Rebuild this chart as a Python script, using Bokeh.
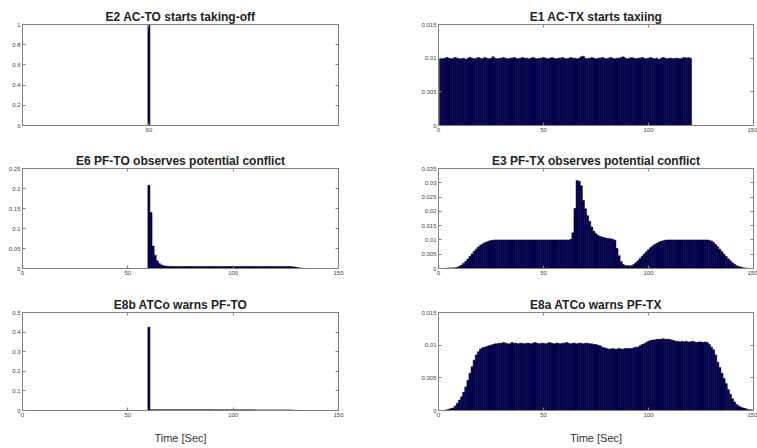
from bokeh.plotting import figure
from bokeh.models import LinearAxis, FixedTicker, ColumnDataSource
from bokeh.layouts import column, row
from bokeh.embed import file_html
from bokeh.resources import INLINE

# ---------------- data ----------------
x_ticks = [0, 50, 100, 150]
x_tick_labels = ["0", "50", "100", "150"]
e2_x_ticks = [60]
e2_x_tick_labels = ["60"]

# E2 AC-TO starts taking-off
e2_time = [60]
e2_prob = [1.0]
e2_yticks = [0, 0.2, 0.4, 0.6, 0.8, 1.0]
e2_ylabels = ["0", "0.2", "0.4", "0.6", "0.8", "1"]

# E1 AC-TX starts taxiing (times 1..120)
e1_time = list(range(1, 121))
e1_prob = [
    0.0100, 0.0099, 0.0100, 0.0101, 0.0100, 0.0099, 0.0100, 0.0101, 0.0100, 0.0099,
    0.0099, 0.0100, 0.0098, 0.0100, 0.0101, 0.0100, 0.0099, 0.0100, 0.0101, 0.0100,
    0.0099, 0.0101, 0.0100, 0.0099, 0.0100, 0.0102, 0.0100, 0.0099, 0.0100, 0.0100,
    0.0101, 0.0100, 0.0099, 0.0100, 0.0100, 0.0101, 0.0100, 0.0099, 0.0100, 0.0101,
    0.0100, 0.0100, 0.0099, 0.0100, 0.0101, 0.0100, 0.0099, 0.0100, 0.0100, 0.0101,
    0.0100, 0.0099, 0.0100, 0.0101, 0.0100, 0.0099, 0.0100, 0.0100, 0.0101, 0.0100,
    0.0099, 0.0100, 0.0101, 0.0100, 0.0100, 0.0099, 0.0100, 0.0102, 0.0103, 0.0100,
    0.0099, 0.0100, 0.0101, 0.0100, 0.0099, 0.0100, 0.0100, 0.0101, 0.0100, 0.0099,
    0.0100, 0.0101, 0.0100, 0.0099, 0.0100, 0.0100, 0.0101, 0.0102, 0.0100, 0.0099,
    0.0100, 0.0101, 0.0100, 0.0099, 0.0100, 0.0100, 0.0101, 0.0100, 0.0099, 0.0100,
    0.0101, 0.0100, 0.0099, 0.0100, 0.0098, 0.0100, 0.0101, 0.0100, 0.0099, 0.0100,
    0.0100, 0.0099, 0.0100, 0.0100, 0.0099, 0.0100, 0.0101, 0.0100, 0.0101, 0.0100,
]
e1_yticks = [0, 0.005, 0.01, 0.015]
e1_ylabels = ["0", "0.005", "0.01", "0.015"]

# E6 PF-TO observes potential conflict (times 60..135)
e6_time = list(range(60, 136))
e6_prob = [
    0.208, 0.140, 0.056, 0.033, 0.019, 0.012, 0.009, 0.007, 0.006, 0.0055,
    0.0052, 0.0050, 0.0050, 0.0049, 0.0050, 0.0051, 0.0050, 0.0049, 0.0050, 0.0050,
    0.0051, 0.0050, 0.0049, 0.0052, 0.0053, 0.0052, 0.0050, 0.0049, 0.0050, 0.0050,
    0.0051, 0.0052, 0.0053, 0.0052, 0.0051, 0.0050, 0.0050, 0.0051, 0.0052, 0.0052,
    0.0051, 0.0050, 0.0050, 0.0051, 0.0052, 0.0052, 0.0051, 0.0050, 0.0050, 0.0051,
    0.0052, 0.0053, 0.0052, 0.0051, 0.0050, 0.0051, 0.0052, 0.0053, 0.0052, 0.0051,
    0.0050, 0.0050, 0.0049, 0.0050, 0.0050, 0.0049, 0.0048, 0.0047, 0.0045, 0.0040,
    0.0030, 0.0020, 0.0012, 0.0006, 0.0003, 0.0001,
]
e6_yticks = [0, 0.05, 0.1, 0.15, 0.2, 0.25]
e6_ylabels = ["0", "0.05", "0.1", "0.15", "0.2", "0.25"]

# E3 PF-TX observes potential conflict (times 0..149)
e3_time = list(range(0, 150))
e3_prob = [
    0.0, 0.0, 0.0, 0.0, 0.0001, 0.0002, 0.0002, 0.0002, 0.0003, 0.0004,
    0.0008, 0.0012, 0.0018, 0.0025, 0.0033, 0.0042, 0.0051, 0.0060, 0.0068, 0.0075,
    0.0081, 0.0086, 0.0090, 0.0093, 0.0096, 0.0098, 0.0099, 0.0100, 0.0100, 0.0100,
    0.0100, 0.0100, 0.0100, 0.0100, 0.0100, 0.0100, 0.0100, 0.0100, 0.0100, 0.0100,
    0.0100, 0.0100, 0.0100, 0.0100, 0.0100, 0.0100, 0.0100, 0.0100, 0.0100, 0.0100,
    0.0100, 0.0100, 0.0100, 0.0100, 0.0100, 0.0100, 0.0100, 0.0100, 0.0100, 0.0100,
    0.0100, 0.0100, 0.0100, 0.0102, 0.0125, 0.0210, 0.0308, 0.0305, 0.0290, 0.0238,
    0.0209, 0.0185, 0.0165, 0.0145, 0.0130, 0.0122, 0.0116, 0.0112, 0.0110, 0.0108,
    0.0106, 0.0105, 0.0104, 0.0102, 0.0099, 0.0070, 0.0045, 0.0024, 0.0014, 0.0010,
    0.0010, 0.0010, 0.0010, 0.0014, 0.0020, 0.0027, 0.0035, 0.0043, 0.0051, 0.0059,
    0.0066, 0.0073, 0.0079, 0.0084, 0.0088, 0.0092, 0.0095, 0.0097, 0.0099, 0.0100,
    0.0100, 0.0100, 0.0100, 0.0100, 0.0100, 0.0100, 0.0100, 0.0100, 0.0100, 0.0100,
    0.0100, 0.0100, 0.0100, 0.0100, 0.0100, 0.0100, 0.0100, 0.0100, 0.0100, 0.0099,
    0.0096, 0.0091, 0.0084, 0.0076, 0.0067, 0.0059, 0.0050, 0.0042, 0.0034, 0.0027,
    0.0020, 0.0015, 0.0010, 0.0007, 0.0005, 0.0003, 0.0002, 0.0001, 0.0, 0.0,
]
e3_yticks = [0, 0.005, 0.01, 0.015, 0.02, 0.025, 0.03, 0.035]
e3_ylabels = ["0", "0.005", "0.01", "0.015", "0.02", "0.025", "0.03", "0.035"]

# E8b ATCo warns PF-TO (times 60..132)
e8b_time = list(range(60, 133))
e8b_prob = [0.425] + [0.004] * 30 + [0.0035] * 20 + [0.003] * 17 + [0.002, 0.0015, 0.001, 0.0007, 0.0004]
e8b_yticks = [0, 0.1, 0.2, 0.3, 0.4, 0.5]
e8b_ylabels = ["0", "0.1", "0.2", "0.3", "0.4", "0.5"]

# E8a ATCo warns PF-TX (times 0..149)
e8a_time = list(range(0, 150))
e8a_prob = [
    0.0, 0.0, 0.0, 0.0, 0.0001, 0.0002, 0.0003, 0.0004, 0.0007, 0.0011,
    0.0016, 0.0021, 0.0028, 0.0036, 0.0046, 0.0057, 0.0067, 0.0077, 0.0085, 0.0090,
    0.0094, 0.0096, 0.0097, 0.0098, 0.0099, 0.0100, 0.0101, 0.0102, 0.0102, 0.0103,
    0.0103, 0.0104, 0.0103, 0.0102, 0.0102, 0.0104, 0.0103, 0.0103, 0.0102, 0.0103,
    0.0103, 0.0102, 0.0103, 0.0103, 0.0102, 0.0103, 0.0104, 0.0103, 0.0102, 0.0103,
    0.0103, 0.0102, 0.0103, 0.0104, 0.0103, 0.0102, 0.0103, 0.0103, 0.0102, 0.0103,
    0.0103, 0.0104, 0.0103, 0.0102, 0.0103, 0.0103, 0.0102, 0.0103, 0.0103, 0.0102,
    0.0103, 0.0103, 0.0102, 0.0102, 0.0101, 0.0101, 0.0100, 0.0099, 0.0097, 0.0096,
    0.0095, 0.0094, 0.0094, 0.0095, 0.0094, 0.0094, 0.0095, 0.0094, 0.0094, 0.0095,
    0.0095, 0.0095, 0.0095, 0.0096, 0.0097, 0.0097, 0.0099, 0.0101, 0.0102, 0.0104,
    0.0106, 0.0107, 0.0108, 0.0108, 0.0109, 0.0109, 0.0109, 0.0110, 0.0109, 0.0109,
    0.0109, 0.0108, 0.0107, 0.0106, 0.0106, 0.0105, 0.0106, 0.0105, 0.0106, 0.0105,
    0.0105, 0.0106, 0.0105, 0.0104, 0.0105, 0.0105, 0.0104, 0.0105, 0.0104, 0.0101,
    0.0097, 0.0093, 0.0085, 0.0074, 0.0066, 0.0057, 0.0049, 0.0041, 0.0032, 0.0025,
    0.0018, 0.0013, 0.0009, 0.0007, 0.0005, 0.0004, 0.0003, 0.0002, 0.0001, 0.0001,
]
e8a_yticks = [0, 0.005, 0.01, 0.015]
e8a_ylabels = ["0", "0.005", "0.01", "0.015"]

# ---------------- styling ----------------
BAR_FILL = "#00006c"
BAR_LINE = "#000000"
FRAME = "#808080"
TICK_FONT = "Liberation Sans"
TICK_SIZE = "6px"
TICK_COLOR = "#444444"


def style_axis(ax, show_labels=True):
    ax.axis_line_color = FRAME
    ax.major_tick_line_color = FRAME
    ax.major_tick_in = 3
    ax.major_tick_out = 0
    ax.minor_tick_line_color = None
    ax.major_label_text_font = TICK_FONT
    ax.major_label_text_color = TICK_COLOR
    if show_labels:
        ax.major_label_standoff = 2
        ax.major_label_text_font_size = TICK_SIZE
    else:
        ax.major_label_standoff = 0
        ax.major_label_text_font_size = "1px"
        ax.major_label_text_color = None


def panel(title, t, v, ymax, yticks, ylabels, xticks, xlabels,
          w, h, bl, br, bt, bb, xlabel=None):
    p = figure(width=w, height=h, x_range=(0, 150), y_range=(0, ymax),
               output_backend="svg", toolbar_location=None,
               min_border_left=bl, min_border_right=br,
               min_border_top=bt, min_border_bottom=bb)
    p.title.text = title
    p.title.align = "center"
    p.title.text_font = "Liberation Sans"
    p.title.text_font_size = "12px"
    p.title.text_font_style = "bold"
    p.title.text_color = "#222222"
    p.title.standoff = 2
    p.grid.visible = False
    p.outline_line_color = FRAME
    p.background_fill_color = "white"
    p.border_fill_color = "white"

    src = ColumnDataSource(dict(t=t, v=v))
    p.vbar(x="t", top="v", width=1, bottom=0, source=src,
           fill_color=BAR_FILL, line_color=BAR_LINE, line_width=0.5)

    xa = p.xaxis[0]
    ya = p.yaxis[0]
    style_axis(xa)
    style_axis(ya)
    xa.ticker = FixedTicker(ticks=xticks)
    xa.major_label_overrides = {k: s for k, s in zip(xticks, xlabels)}
    ya.ticker = FixedTicker(ticks=yticks)
    ya.major_label_overrides = {k: s for k, s in zip(yticks, ylabels)}
    if xlabel:
        xa.axis_label = xlabel
        xa.axis_label_text_font = "Liberation Sans"
        xa.axis_label_text_font_size = "11px"
        xa.axis_label_text_font_style = "normal"
        xa.axis_label_text_color = "#333333"
        xa.axis_label_standoff = 12

    top = LinearAxis(ticker=FixedTicker(ticks=xticks))
    style_axis(top, show_labels=False)
    p.add_layout(top, "above")
    right = LinearAxis(ticker=FixedTicker(ticks=yticks))
    style_axis(right, show_labels=False)
    p.add_layout(right, "right")
    return p


LW, RW = 360, 397
H1, H2, H3 = 146, 144, 156
p1 = panel("E2 AC-TO starts taking-off", e2_time, e2_prob, 1.0, e2_yticks, e2_ylabels,
           e2_x_ticks, e2_x_tick_labels, LW, H1, 22, 22, 24, 21)
p2 = panel("E1 AC-TX starts taxiing", e1_time, e1_prob, 0.015, e1_yticks, e1_ylabels,
           x_ticks, x_tick_labels, RW, H1, 78, 4, 24, 21)
p3 = panel("E6 PF-TO observes potential conflict", e6_time, e6_prob, 0.25, e6_yticks, e6_ylabels,
           x_ticks, x_tick_labels, LW, H2, 22, 22, 22, 22)
p4 = panel("E3 PF-TX observes potential conflict", e3_time, e3_prob, 0.035, e3_yticks, e3_ylabels,
           x_ticks, x_tick_labels, RW, H2, 78, 4, 22, 22)
p5 = panel("E8b ATCo warns PF-TO", e8b_time, e8b_prob, 0.5, e8b_yticks, e8b_ylabels,
           x_ticks, x_tick_labels, LW, H3, 22, 22, 22, 33, xlabel="Time [Sec]")
p6 = panel("E8a ATCo warns PF-TX", e8a_time, e8a_prob, 0.015, e8a_yticks, e8a_ylabels,
           x_ticks, x_tick_labels, RW, H3, 78, 4, 22, 33, xlabel="Time [Sec]")

layout = column(row(p1, p2), row(p3, p4), row(p5, p6))

open("out.html", "w").write(file_html(layout, INLINE))
